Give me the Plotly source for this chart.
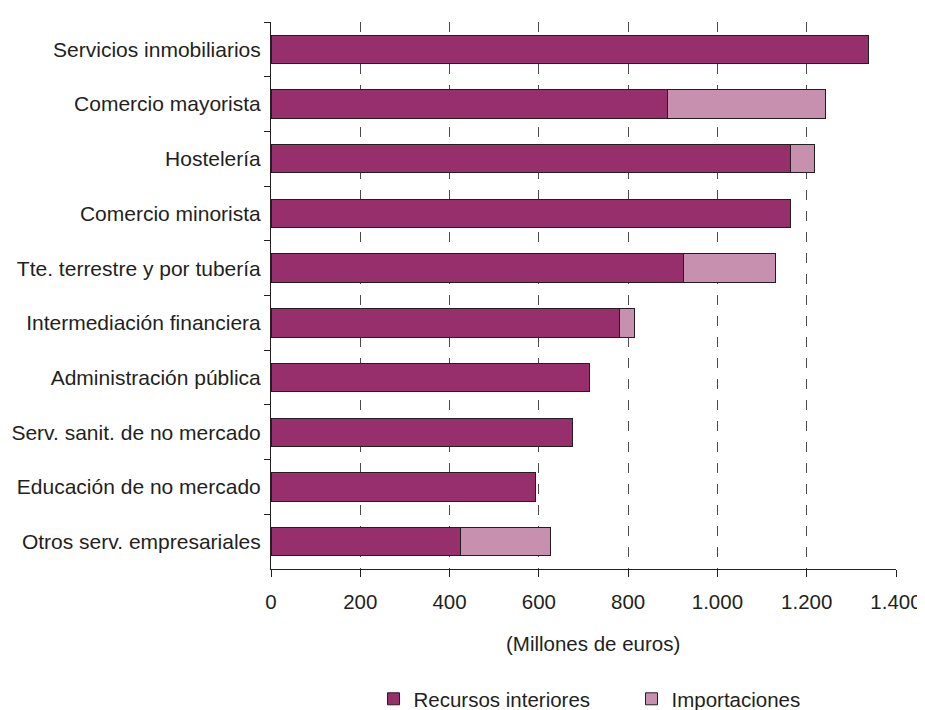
import plotly.graph_objects as go

categories = [
    "Servicios inmobiliarios",
    "Comercio mayorista",
    "Hostelería",
    "Comercio minorista",
    "Tte. terrestre y por tubería",
    "Intermediación financiera",
    "Administración pública",
    "Serv. sanit. de no mercado",
    "Educación de no mercado",
    "Otros serv. empresariales",
]
recursos_interiores = [1339, 889, 1163, 1163, 925, 781, 713, 675, 593, 424]
importaciones = [0, 352, 55, 0, 204, 33, 0, 0, 0, 203]

tick_vals = [0, 200, 400, 600, 800, 1000, 1200, 1400]
tick_text = ["0", "200", "400", "600", "800", "1.000", "1.200", "1.400"]
x_title = "(Millones de euros)"

FONT = "Liberation Sans, Arial, Helvetica, sans-serif"
TXT = "#231f20"
FS = 20.5

fig = go.Figure()
fig.add_trace(go.Bar(
    y=categories, x=recursos_interiores, orientation="h",
    name="Recursos interiores",
    marker=dict(color="#962f6b", line=dict(color="#231f20", width=1)),
))
fig.add_trace(go.Bar(
    y=categories, x=importaciones, orientation="h",
    name="Importaciones",
    marker=dict(color="#c890af", line=dict(color="#231f20", width=1)),
))

# page body has an 8px default margin, so the figure is sized/offset to fit the window
fig.update_layout(
    barmode="stack",
    bargap=0.48,
    width=917, height=702,
    margin=dict(l=263, r=29, t=14, b=141, autoexpand=False),
    plot_bgcolor="white", paper_bgcolor="white",
    font=dict(family=FONT, size=FS, color=TXT),
    showlegend=True,
    legend=dict(
        orientation="h", x=0.164, xanchor="left",
        yref="container", y=0.0157, yanchor="middle",
        font=dict(size=FS, color=TXT),
        entrywidth=213, entrywidthmode="pixels",
        traceorder="normal",
    ),
    annotations=[dict(
        text=x_title, xref="paper", yref="paper",
        x=0.5152, y=-0.1353, xanchor="center", yanchor="middle",
        showarrow=False, font=dict(size=FS, color=TXT),
    )],
)
fig.update_xaxes(
    range=[0, 1400],
    tickvals=tick_vals, ticktext=tick_text,
    showgrid=True, gridcolor="#4a4a4a", griddash="10px,11px", gridwidth=1,
    showline=True, linecolor="#231f20", linewidth=1,
    ticks="outside", ticklen=7, tickcolor="#231f20",
    zeroline=False, automargin=False,
    ticklabelstandoff=7,
)
fig.update_yaxes(
    autorange="reversed",
    type="category",
    showline=True, linecolor="#231f20", linewidth=1,
    ticks="outside", ticklen=6, tickcolor="#231f20",
    tickson="boundaries",
    showgrid=False, automargin=False,
    ticklabelstandoff=5,
    tickfont=dict(size=21, color=TXT),
)

fig.write_html("out.html")
